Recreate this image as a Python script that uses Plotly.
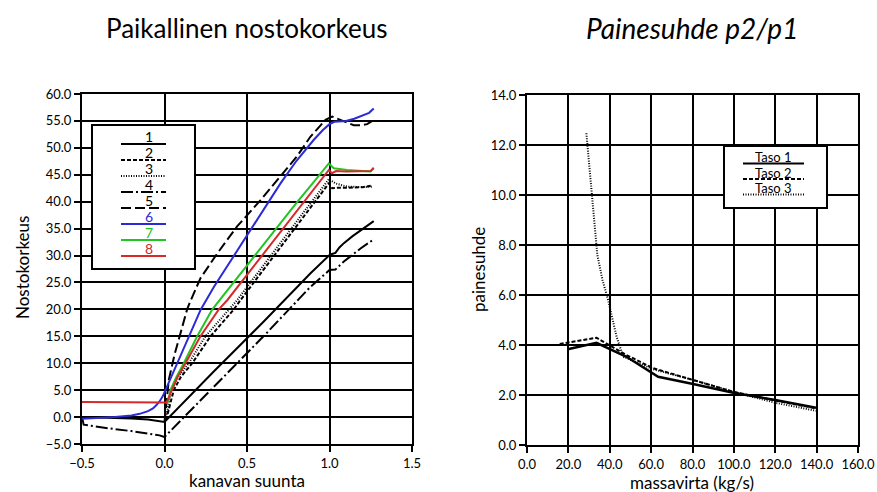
import plotly.graph_objects as go

# ---------------- data: left chart (Paikallinen nostokorkeus) ----------------
c1_x = [-0.5, -0.4, -0.3, -0.2, -0.1, -0.03, 0.0, 0.3, 0.6, 0.885, 1.0, 1.015, 1.036, 1.06, 1.087, 1.14, 1.188, 1.23, 1.268]
c1_y = [0.0, -0.05, -0.15, -0.25, -0.45, -0.7, -0.9, 8.5, 17.7, 26.7, 30.1, 30.3, 30.5, 31.5, 32.3, 33.6, 34.7, 35.6, 36.4]

c2_x = [0.01, 0.056, 0.1, 0.168, 0.279, 0.42, 0.46, 0.6, 0.8, 0.996, 1.016, 1.05, 1.107, 1.2, 1.26]
c2_y = [-0.5, 5.0, 7.5, 10.0, 15.0, 20.0, 21.7, 27.4, 35.5, 43.4, 42.5, 42.6, 42.6, 42.7, 43.0]

c3_x = [0.01, 0.04, 0.09, 0.147, 0.248, 0.39, 0.44, 0.6, 0.8, 0.996, 1.036, 1.107, 1.2, 1.26]
c3_y = [0.0, 5.0, 7.8, 10.0, 15.0, 20.0, 21.7, 28.2, 36.3, 44.2, 43.4, 42.8, 42.7, 42.8]

c4_x = [-0.5, -0.49, -0.45, -0.4, -0.3, -0.2, -0.1, -0.03, 0.0, 0.3, 0.6, 0.885, 1.0, 1.015, 1.036, 1.087, 1.14, 1.188, 1.23, 1.268]
c4_y = [0.0, -1.4, -1.6, -1.85, -2.25, -2.6, -3.0, -3.4, -3.7, 5.6, 15.0, 24.2, 27.3, 27.35, 27.4, 28.9, 30.2, 31.3, 32.2, 33.0]

c5_x = [0.0, 0.01, 0.026, 0.06, 0.097, 0.137, 0.158, 0.218, 0.32, 0.44, 0.582, 0.7, 0.8, 0.885, 0.976, 1.016, 1.05, 1.087, 1.147, 1.19, 1.228, 1.26]
c5_y = [-0.9, 2.5, 6.9, 11.5, 15.6, 20.0, 21.6, 25.8, 30.4, 35.4, 40.3, 44.6, 48.3, 52.1, 55.2, 55.8, 55.4, 54.85, 54.2, 54.2, 54.4, 55.0]

c6_x = [-0.5, -0.4, -0.3, -0.2, -0.15, -0.1, -0.07, -0.05, -0.03, -0.01, 0.0, 0.05, 0.1, 0.15, 0.22, 0.3, 0.4, 0.5, 0.6, 0.703, 0.8, 0.905, 0.96, 1.0, 1.03, 1.1, 1.15, 1.2, 1.24, 1.268]
c6_y = [-0.3, -0.2, 0.0, 0.3, 0.6, 1.1, 1.6, 2.2, 2.9, 3.9, 4.6, 8.0, 11.4, 15.0, 20.0, 24.2, 29.0, 33.8, 38.6, 43.4, 47.6, 51.5, 53.3, 54.4, 54.85, 55.0, 55.4, 56.0, 56.5, 57.3]

c7_x = [0.012, 0.026, 0.036, 0.07, 0.117, 0.198, 0.29, 0.418, 0.5, 0.6, 0.7, 0.8, 0.9, 0.996, 1.026, 1.07, 1.107, 1.2, 1.248, 1.268]
c7_y = [2.5, 3.2, 5.0, 7.3, 10.0, 15.0, 20.0, 25.0, 28.1, 32.0, 35.9, 39.8, 43.5, 47.1, 46.2, 46.0, 45.9, 45.7, 45.6, 46.2]

c8_x = [-0.5, -0.3, -0.1, 0.0, 0.012, 0.036, 0.08, 0.127, 0.218, 0.329, 0.38, 0.5, 0.6, 0.7, 0.8, 0.9, 0.996, 1.015, 1.04, 1.1, 1.2, 1.25, 1.268]
c8_y = [2.8, 2.75, 2.7, 2.7, 2.7, 4.4, 7.5, 10.0, 15.0, 20.0, 21.7, 26.4, 30.3, 34.2, 38.1, 42.0, 45.9, 45.3, 45.7, 45.6, 45.6, 45.7, 46.3]

left_names = ["1", "2", "3", "4", "5", "6", "7", "8"]

# ---------------- data: right chart (Painesuhde p2/p1) ----------------
taso1_x = [20.2, 33.6, 48.1, 60.2, 63.4, 80.3, 99.7, 120.0, 139.7]
taso1_y = [3.84, 4.09, 3.53, 2.87, 2.73, 2.44, 2.09, 1.80, 1.49]
taso2_x = [15.8, 33.6, 48.1, 61.0, 80.3, 99.7, 120.0, 139.7]
taso2_y = [4.04, 4.29, 3.60, 3.07, 2.60, 2.13, 1.78, 1.47]
taso3_x = [28.7, 31.2, 34.0, 36.5, 39.2, 43.3, 46.5, 61.0, 80.3, 99.7, 120.0, 139.7]
taso3_y = [12.47, 10.07, 7.6, 6.6, 5.8, 4.33, 3.53, 3.03, 2.60, 2.13, 1.69, 1.37]
right_names = ["Taso 1", "Taso 2", "Taso 3"]

# ---------------- styles ----------------
FONT = "Lato"
BLUE, GREEN, RED = "#2b2bd6", "#22c422", "#d42a2a"
left_styles = [
    ("black", "solid"),
    ("black", "4px,2px"),
    ("black", "1px,1.5px"),
    ("black", "12px,3px,2px,3px"),
    ("black", "10px,4px"),
    (BLUE, "solid"),
    (GREEN, "solid"),
    (RED, "solid"),
]
right_styles = [("black", "solid", 2.5), ("black", "4px,2px", 2), ("black", "1px,1.5px", 2)]

W, H = 877, 492
def px(x):
    return x / W
def py(y):
    return 1 - y / H

fig = go.Figure()
left_data = [(c1_x, c1_y), (c2_x, c2_y), (c3_x, c3_y), (c4_x, c4_y),
             (c5_x, c5_y), (c6_x, c6_y), (c7_x, c7_y), (c8_x, c8_y)]
for (xs, ys), name, (col, dash) in zip(left_data, left_names, left_styles):
    fig.add_trace(go.Scatter(x=xs, y=ys, mode="lines", name=name,
                             line=dict(color=col, dash=dash, width=2),
                             xaxis="x", yaxis="y", showlegend=False))

right_data = [(taso1_x, taso1_y), (taso2_x, taso2_y), (taso3_x, taso3_y)]
for (xs, ys), name, (col, dash, w) in zip(right_data, right_names, right_styles):
    fig.add_trace(go.Scatter(x=xs, y=ys, mode="lines", name=name,
                             line=dict(color=col, dash=dash, width=w),
                             xaxis="x2", yaxis="y2", showlegend=False))

axis_common = dict(showline=True, linecolor="black", linewidth=2, mirror=True, automargin=False,
                   showgrid=True, gridcolor="black", gridwidth=2, zeroline=False,
                   ticks="outside", ticklen=6, tickwidth=1.5, tickcolor="black",
                   tickformat=".1f", tickfont=dict(family=FONT, size=13, color="black"))

fig.update_layout(
    width=W, height=H, margin=dict(l=0, r=0, t=0, b=0, autoexpand=False),
    paper_bgcolor="white", plot_bgcolor="white",
    xaxis=dict(domain=[px(82), px(412)], range=[-0.5, 1.5], dtick=0.5, anchor="y", **axis_common),
    yaxis=dict(domain=[py(444), py(94)], range=[-5, 60], dtick=5, anchor="x", **axis_common),
    xaxis2=dict(domain=[px(527), px(858)], range=[0, 160], dtick=20, anchor="y2", **axis_common),
    yaxis2=dict(domain=[py(445), py(95)], range=[0, 14], dtick=2, anchor="x2", **axis_common),
)

ann = []
# titles
ann.append(dict(text="Paikallinen nostokorkeus", x=px(247), y=py(28), xref="paper", yref="paper",
                showarrow=False, font=dict(family=FONT, size=26, color="black"), xanchor="center", yanchor="middle"))
ann.append(dict(text="<i>Painesuhde p2/p1</i>", x=px(692), y=py(28), xref="paper", yref="paper",
                showarrow=False, font=dict(family=FONT, size=28, color="black"), xanchor="center", yanchor="middle"))
# axis titles
ann.append(dict(text="kanavan suunta", x=px(247), y=py(480), xref="paper", yref="paper",
                showarrow=False, font=dict(family=FONT, size=17, color="black"), xanchor="center", yanchor="middle"))
ann.append(dict(text="massavirta (kg/s)", x=px(692), y=py(482), xref="paper", yref="paper",
                showarrow=False, font=dict(family=FONT, size=17, color="black"), xanchor="center", yanchor="middle"))
ann.append(dict(text="Nostokorkeus", x=px(22), y=py(268), xref="paper", yref="paper", textangle=-90,
                showarrow=False, font=dict(family=FONT, size=17, color="black"), xanchor="center", yanchor="middle"))
ann.append(dict(text="painesuhde", x=px(478), y=py(270), xref="paper", yref="paper", textangle=-90,
                showarrow=False, font=dict(family=FONT, size=17, color="black"), xanchor="center", yanchor="middle"))

shapes = []
# left legend box
shapes.append(dict(type="rect", xref="paper", yref="paper", x0=px(92), x1=px(195), y0=py(269), y1=py(125),
                   line=dict(color="black", width=2), fillcolor="white", layer="above"))
for i, (name, (col, dash)) in enumerate(zip(left_names, left_styles)):
    ly = 144 + i * 16
    shapes.append(dict(type="line", xref="paper", yref="paper", x0=px(121), x1=px(166), y0=py(ly), y1=py(ly),
                       line=dict(color=col, dash=dash, width=2), layer="above"))
    ann.append(dict(text=name, x=px(149), y=py(ly - 7.5), xref="paper", yref="paper", showarrow=False,
                    font=dict(family=FONT, size=14, color=col), xanchor="center", yanchor="middle",
                    borderpad=0))
# right legend box
shapes.append(dict(type="rect", xref="paper", yref="paper", x0=px(724), x1=px(827), y0=py(208), y1=py(146),
                   line=dict(color="black", width=2), fillcolor="white", layer="above"))
for i, (name, (col, dash, w)) in enumerate(zip(right_names, right_styles)):
    ly = 163.5 + i * 15.5
    shapes.append(dict(type="line", xref="paper", yref="paper", x0=px(743), x1=px(804), y0=py(ly), y1=py(ly),
                       line=dict(color=col, dash=dash, width=2), layer="above"))
    ann.append(dict(text=name, x=px(773), y=py(ly - 6.5), xref="paper", yref="paper", showarrow=False,
                    font=dict(family=FONT, size=13, color=col), xanchor="center", yanchor="middle",
                    borderpad=0))

fig.update_layout(annotations=ann, shapes=shapes)
fig.write_html("out.html")
